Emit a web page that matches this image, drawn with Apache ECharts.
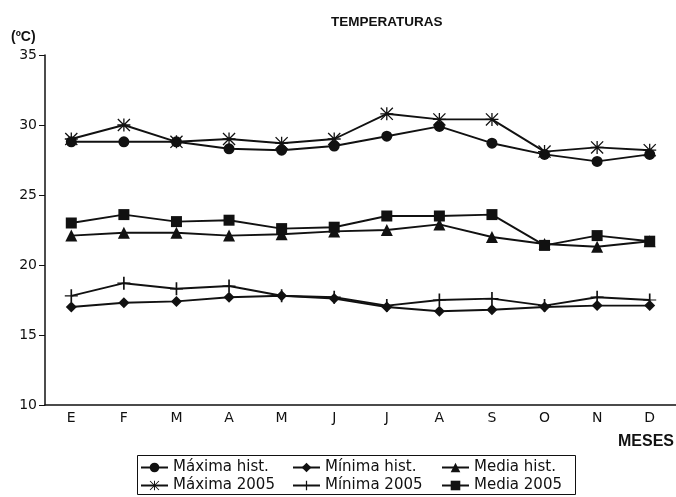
<!DOCTYPE html>
<html><head><meta charset="utf-8">
<script src="https://cdn.jsdelivr.net/npm/echarts@6/dist/echarts.min.js"></script>
<style>html,body{margin:0;padding:0;background:#fff}#c{width:676px;height:497px}</style>
</head><body><div id="c"></div>
<script>
const months = ['E','F','M','A','M','J','J','A','S','O','N','D'];
const maximaHist = [28.8,28.8,28.8,28.3,28.2,28.5,29.2,29.9,28.7,27.9,27.4,27.9];
const maxima2005 = [29.0,30.0,28.8,29.0,28.7,29.0,30.8,30.4,30.4,28.1,28.4,28.2];
const minimaHist = [17.0,17.3,17.4,17.7,17.8,17.6,17.0,16.7,16.8,17.0,17.1,17.1];
const minima2005 = [17.8,18.7,18.3,18.5,17.8,17.7,17.1,17.5,17.6,17.1,17.7,17.5];
const mediaHist  = [22.1,22.3,22.3,22.1,22.2,22.4,22.5,22.9,22.0,21.5,21.3,21.7];
const media2005  = [23.0,23.6,23.1,23.2,22.6,22.7,23.5,23.5,23.6,21.4,22.1,21.7];

const asterisk = 'path://M9,0L11,0L11,20L9,20ZM0,9L20,9L20,11L0,11ZM1.4,0L20,18.6L18.6,20L0,1.4ZM18.6,0L20,1.4L1.4,20L0,18.6Z';
const plus = 'path://M9.1,0L10.9,0L10.9,20L9.1,20ZM3,9.1L17,9.1L17,10.9L3,10.9Z';
const ink = '#111';
const font = 'Liberation Sans, Arial, sans-serif';
const wide = 'DejaVu Sans, sans-serif';

function s(name, data, symbol, size) {
  return {
    name, type: 'line', data, symbol, symbolSize: size,
    lineStyle: {color: ink, width: 1.9},
    itemStyle: {color: ink},
    animation: false
  };
}
const chart = echarts.init(document.getElementById('c'));
const legText = {fontFamily: wide, fontSize: 15, color: ink};
chart.setOption({
  backgroundColor: '#fff',
  title: [
    {text: 'TEMPERATURAS', left: 326, top: 10, textStyle: {fontFamily: font, fontSize: 13.5, fontWeight: 'bold', color: ink}},
    {text: '(ºC)', left: 6, top: 25, textStyle: {fontFamily: font, fontSize: 14, fontWeight: 'bold', color: ink}},
    {text: 'MESES', left: 613, top: 429, textStyle: {fontFamily: font, fontSize: 16, fontWeight: 'bold', color: ink}}
  ],
  grid: {left: 45, right: 0, top: 55, bottom: 92},
  xAxis: {
    type: 'category', data: months, boundaryGap: true,
    axisLine: {lineStyle: {color: ink, width: 1.5}},
    axisTick: {alignWithLabel: true, length: 5, lineStyle: {color: ink}},
    axisLabel: {fontFamily: wide, fontSize: 14, color: ink, margin: 6}
  },
  yAxis: {
    type: 'value', min: 10, max: 35, interval: 5,
    axisLine: {show: true, lineStyle: {color: ink, width: 1.5}},
    axisTick: {show: true, length: 6, lineStyle: {color: ink}},
    splitLine: {show: false},
    axisLabel: {fontFamily: wide, fontSize: 14, color: ink, margin: 8}
  },
  legend: [
    {data: ['Máxima hist.', 'Máxima 2005'], orient: 'vertical', left: 140, top: 460, itemWidth: 27, itemHeight: 12, itemGap: 3, textStyle: legText, padding: 0},
    {data: ['Mínima hist.', 'Mínima 2005'], orient: 'vertical', left: 292, top: 460, itemWidth: 27, itemHeight: 12, itemGap: 3, textStyle: legText, padding: 0},
    {data: ['Media hist.', 'Media 2005'], orient: 'vertical', left: 441, top: 460, itemWidth: 27, itemHeight: 12, itemGap: 3, textStyle: legText, padding: 0}
  ],
  graphic: [{type: 'rect', shape: {x: 137.5, y: 455.5, width: 438, height: 39}, style: {fill: null, stroke: ink, lineWidth: 1}}],
  series: [
    s('Máxima hist.', maximaHist, 'circle', 11),
    s('Máxima 2005', maxima2005, asterisk, 13),
    s('Mínima hist.', minimaHist, 'diamond', 11),
    s('Mínima 2005', minima2005, plus, 13),
    s('Media hist.', mediaHist, 'triangle', 12),
    s('Media 2005', media2005, 'rect', 11)
  ]
});
</script></body></html>
